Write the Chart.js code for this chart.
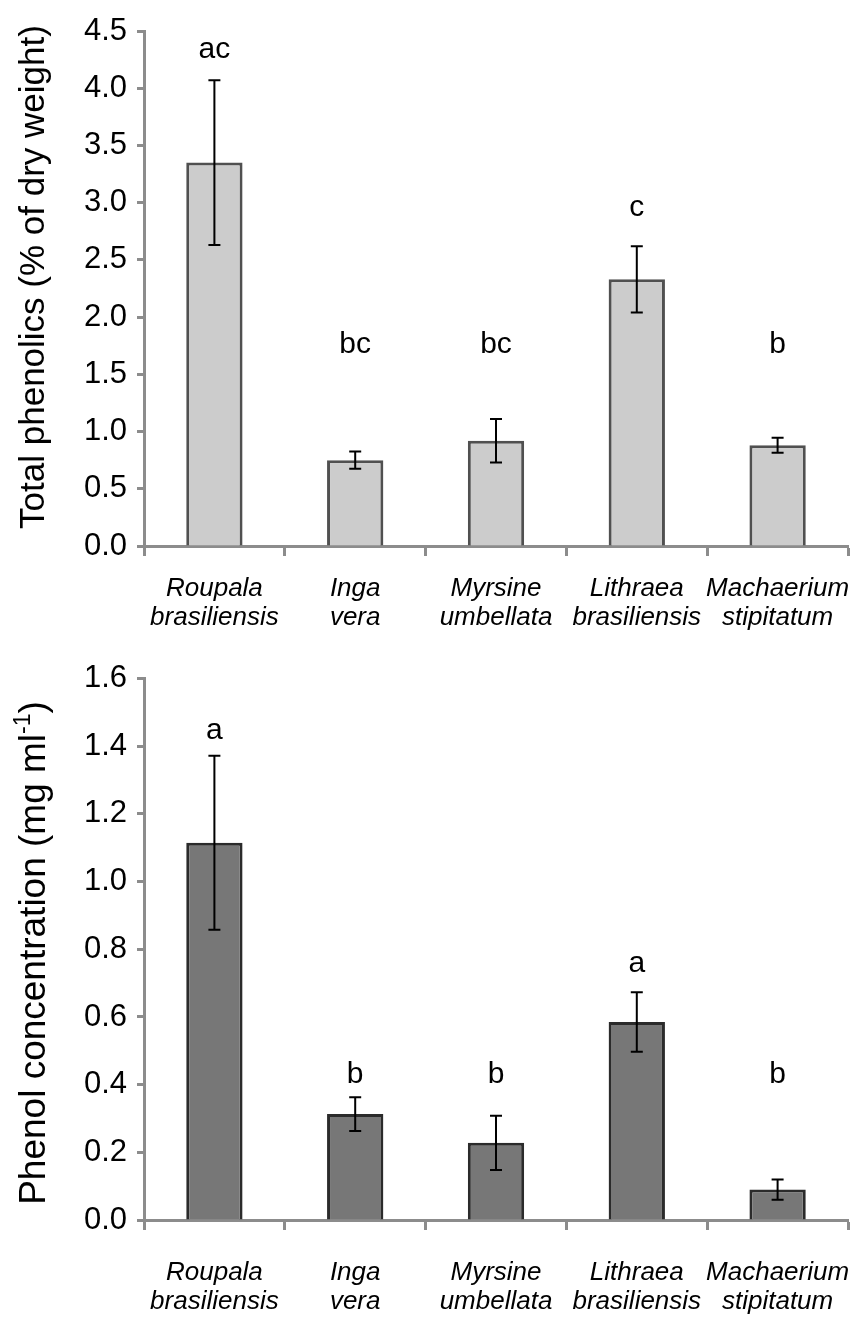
<!DOCTYPE html>
<html>
<head>
<meta charset="utf-8">
<script src="https://cdn.jsdelivr.net/npm/chart.js"></script>
<style>
  body { margin: 0; background: #fff; }
  .panel { position: relative; width: 851px; }
  #phenolicsPanel { height: 650px; }
  #phenolPanel { height: 670px; }
</style>
</head>
<body>
<div class="panel" id="phenolicsPanel"><canvas id="phenolicsChart"></canvas></div>
<div class="panel" id="phenolPanel"><canvas id="phenolChart"></canvas></div>
<script>
// species on the x axis (genus / epithet on two lines)
const species = [
    ['Roupala', 'brasiliensis'],
    ['Inga', 'vera'],
    ['Myrsine', 'umbellata'],
    ['Lithraea', 'brasiliensis'],
    ['Machaerium', 'stipitatum']
];

// total phenolics, % of dry weight (mean, SE, significance letters)
const totalPhenolics = [3.35, 0.75, 0.92, 2.33, 0.88];
const totalPhenolicsSE = [0.72, 0.075, 0.19, 0.29, 0.065];
const totalPhenolicsLetters = ['ac', 'bc', 'bc', 'c', 'b'];
const totalPhenolicsLetterAt = [4.34, 1.76, 1.76, 2.96, 1.76];

// phenol concentration, mg ml-1
const phenolConc = [1.115, 0.313, 0.228, 0.585, 0.09];
const phenolConcSE = [0.257, 0.05, 0.08, 0.088, 0.03];
const phenolConcLetters = ['a', 'b', 'b', 'a', 'b'];
const phenolConcLetterAt = [1.445, 0.43, 0.43, 0.756, 0.43];

const FONT = "'Liberation Sans', Arial, sans-serif";
const axisGrey = '#8c8c8c';

// error bars + group letters drawn over the bars
const errorBars = {
    id: 'errorBars',
    afterDatasetsDraw(chart, args, opts) {
        const ctx = chart.ctx;
        const yScale = chart.scales.y;
        const meta = chart.getDatasetMeta(0);
        const values = chart.data.datasets[0].data;
        ctx.save();
        ctx.strokeStyle = '#000';
        ctx.lineWidth = 2;
        meta.data.forEach((bar, i) => {
            const x = bar.x;
            const hi = yScale.getPixelForValue(values[i] + opts.se[i]);
            const lo = yScale.getPixelForValue(values[i] - opts.se[i]);
            ctx.beginPath();
            ctx.moveTo(x, hi); ctx.lineTo(x, lo);
            ctx.moveTo(x - 6, hi); ctx.lineTo(x + 6, hi);
            ctx.moveTo(x - 6, lo); ctx.lineTo(x + 6, lo);
            ctx.stroke();
        });
        ctx.fillStyle = '#000';
        ctx.font = '30px ' + FONT;
        ctx.textAlign = 'center';
        ctx.textBaseline = 'middle';
        meta.data.forEach((bar, i) => {
            ctx.fillText(opts.letters[i], bar.x, yScale.getPixelForValue(opts.letterAt[i]));
        });
        ctx.restore();
    }
};

// rotated y title, supports a superscript part
const yTitle = {
    id: 'yTitle',
    afterDraw(chart, args, opts) {
        const ctx = chart.ctx;
        const mainFont = opts.size + 'px ' + FONT;
        const supFont = Math.round(opts.size * 0.62) + 'px ' + FONT;
        ctx.save();
        ctx.translate(opts.x, opts.centerY);
        ctx.rotate(-Math.PI / 2);
        ctx.fillStyle = '#000';
        ctx.textBaseline = 'alphabetic';
        ctx.textAlign = 'left';
        let total = 0;
        opts.parts.forEach(p => {
            ctx.font = p.sup ? supFont : mainFont;
            total += ctx.measureText(p.text).width;
        });
        let pos = -total / 2;
        opts.parts.forEach(p => {
            ctx.font = p.sup ? supFont : mainFont;
            ctx.fillText(p.text, pos, p.sup ? -opts.size * 0.4 : 0);
            pos += ctx.measureText(p.text).width;
        });
        ctx.restore();
    }
};

function makeChart(canvasId, cfg) {
    return new Chart(document.getElementById(canvasId), {
        type: 'bar',
        data: {
            labels: species,
            datasets: [{
                data: cfg.values,
                backgroundColor: cfg.fill,
                borderColor: cfg.edge,
                borderWidth: 3,
                borderSkipped: 'bottom',
                barPercentage: 0.4,
                categoryPercentage: 1
            }]
        },
        options: {
            responsive: true,
            maintainAspectRatio: false,
            animation: false,
            layout: { padding: { top: cfg.top, right: 3, left: 0, bottom: 0 } },
            plugins: {
                legend: { display: false },
                tooltip: { enabled: false },
                errorBars: { se: cfg.se, letters: cfg.letters, letterAt: cfg.letterAt },
                yTitle: cfg.title
            },
            scales: {
                x: {
                    grid: {
                        drawOnChartArea: false,
                        offset: true,
                        tickLength: 10,
                        tickWidth: 3,
                        tickColor: axisGrey
                    },
                    border: { color: axisGrey, width: 3 },
                    ticks: {
                        color: '#000',
                        padding: cfg.xPad,
                        maxRotation: 0,
                        autoSkip: false,
                        font: { family: FONT, size: 26, style: 'italic', lineHeight: 1.13 }
                    },
                    afterFit: s => {
                        s.height = cfg.xHeight;
                        // let the long last label run past the plot edge
                        s.paddingLeft = 0;
                        s.paddingRight = 0;
                    }
                },
                y: {
                    min: 0,
                    max: cfg.max,
                    ticks: {
                        stepSize: cfg.step,
                        color: '#000',
                        padding: 10,
                        font: { family: FONT, size: 31 },
                        callback: v => v.toFixed(1)
                    },
                    grid: {
                        drawOnChartArea: false,
                        tickLength: 7,
                        tickWidth: 3,
                        tickColor: axisGrey
                    },
                    border: { color: axisGrey, width: 3 },
                    afterFit: s => { s.width = 144; }
                }
            }
        },
        plugins: [errorBars, yTitle]
    });
}

makeChart('phenolicsChart', {
    values: totalPhenolics,
    se: totalPhenolicsSE,
    letters: totalPhenolicsLetters,
    letterAt: totalPhenolicsLetterAt,
    fill: '#cccccc',
    edge: '#505050',
    max: 4.5,
    step: 0.5,
    top: 31,
    xPad: 18,
    xHeight: 104,
    title: { x: 44, centerY: 277, size: 35, parts: [{ text: 'Total phenolics (% of dry weight)' }] }
});

makeChart('phenolChart', {
    values: phenolConc,
    se: phenolConcSE,
    letters: phenolConcLetters,
    letterAt: phenolConcLetterAt,
    fill: '#777777',
    edge: '#2b2b2b',
    max: 1.6,
    step: 0.2,
    top: 24,
    xPad: 28,
    xHeight: 100,
    title: { x: 45, centerY: 303, size: 37, parts: [
        { text: 'Phenol concentration (mg ml' },
        { text: '-1', sup: true },
        { text: ')' }
    ] }
});
</script>
</body>
</html>
